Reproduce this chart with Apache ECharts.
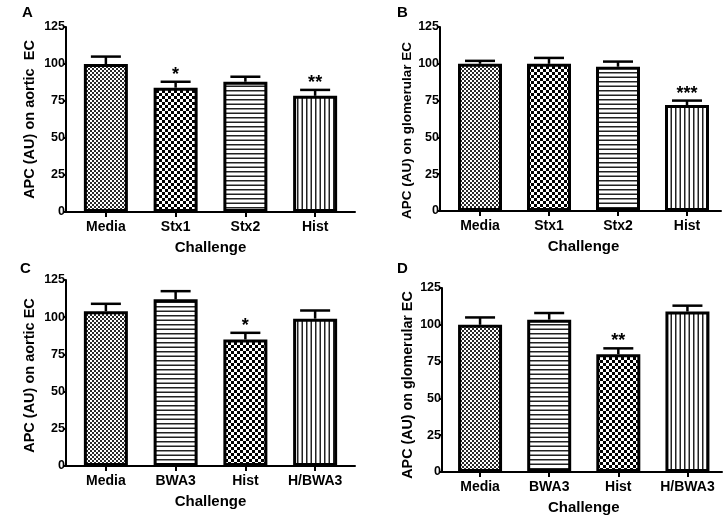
<!DOCTYPE html>
<html>
<head>
<meta charset="utf-8">
<script src="https://cdn.jsdelivr.net/npm/echarts@6/dist/echarts.min.js"></script>
<style>
html,body{margin:0;padding:0;background:#fff;}
#chart{width:726px;height:519px;}
</style>
</head>
<body>
<div id="chart"></div>
<script>
// ---- data ----
const catsAB = ['Media', 'Stx1', 'Stx2', 'Hist'];
const catsCD = ['Media', 'BWA3', 'Hist', 'H/BWA3'];

const meanA = [100, 84, 88, 78.5];
const errA  = [5, 4, 3.4, 4];
const sigA  = ['', '*', '', '**'];

const meanB = [100, 100, 98, 72];
const errB  = [2, 4, 3.5, 3];
const sigB  = ['', '', '', '***'];

const meanC = [104, 112, 85, 99];
const errC  = [5, 5.5, 4.5, 5.5];
const sigC  = ['', '', '*', ''];

const meanD = [100, 103.5, 80, 109];
const errD  = [5, 4.5, 4, 4];
const sigD  = ['', '', '**', ''];

const yMin = 0, yMax = 125, yStep = 25;
const panelLetters = ['A', 'B', 'C', 'D'];
const yNames = ['APC (AU) on aortic  EC', 'APC (AU) on glomerular EC', 'APC (AU) on aortic EC', 'APC (AU) on glomerular EC'];
const xName = 'Challenge';
const patternsAB = ['fine', 'checker', 'hlines', 'vlines'];
const patternsCD = ['fine', 'hlines', 'checker', 'vlines'];

// ---- styling / layout ----
const FONT = "'Liberation Sans', Arial, sans-serif";

function makePattern(kind) {
  const c = document.createElement('canvas');
  let ctx;
  if (kind === 'fine') {
    c.width = 4; c.height = 4; ctx = c.getContext('2d');
    ctx.fillStyle = '#fff'; ctx.fillRect(0, 0, 4, 4);
    ctx.fillStyle = '#2a2a2a';
    ctx.fillRect(0, 0, 2, 2); ctx.fillRect(2, 2, 2, 2);
  } else if (kind === 'checker') {
    c.width = 6; c.height = 6; ctx = c.getContext('2d');
    ctx.fillStyle = '#fff'; ctx.fillRect(0, 0, 6, 6);
    ctx.fillStyle = '#000';
    ctx.fillRect(0, 0, 3, 3); ctx.fillRect(3, 3, 3, 3);
  } else if (kind === 'hlines') {
    c.width = 4; c.height = 9; ctx = c.getContext('2d');
    ctx.fillStyle = '#fff'; ctx.fillRect(0, 0, 4, 9);
    ctx.fillStyle = '#222';
    ctx.fillRect(0, 0, 4, 1.5); ctx.fillRect(0, 4.5, 4, 1.5);
  } else {
    c.width = 9; c.height = 4; ctx = c.getContext('2d');
    ctx.fillStyle = '#fff'; ctx.fillRect(0, 0, 9, 4);
    ctx.fillStyle = '#222';
    ctx.fillRect(0, 0, 1.5, 4); ctx.fillRect(4.5, 0, 1.5, 4);
  }
  return { image: c, repeat: 'repeat' };
}

const panels = [
  { cats: catsAB, mean: meanA, err: errA, sig: sigA, pats: patternsAB,
    axis: { left: 66, top: 27, width: 289, height: 185 }, bars: { left: 71, width: 279 },
    nameGap: 28.5, nameShift: 0, nameSize: 14.5,
    letter: { left: 22, top: 5 } },
  { cats: catsAB, mean: meanB, err: errB, sig: sigB, pats: patternsAB,
    axis: { left: 440, top: 27, width: 281, height: 184 }, bars: { left: 445.5, width: 276 },
    nameGap: 25, nameShift: 23, nameSize: 13.5,
    letter: { left: 397, top: 5 } },
  { cats: catsCD, mean: meanC, err: errC, sig: sigC, pats: patternsCD,
    axis: { left: 66, top: 280, width: 289, height: 186 }, bars: { left: 71, width: 279 },
    nameGap: 28.5, nameShift: 5, nameSize: 14.5,
    letter: { left: 20, top: 261 } },
  { cats: catsCD, mean: meanD, err: errD, sig: sigD, pats: patternsCD,
    axis: { left: 442, top: 288, width: 280, height: 184 }, bars: { left: 445.5, width: 276.5 },
    nameGap: 27, nameShift: 10, nameSize: 14.3,
    letter: { left: 397, top: 261 } }
];

const grid = [], xAxis = [], yAxis = [], series = [], title = [];

panels.forEach((p, i) => {
  const gA = grid.length;
  grid.push({ left: p.axis.left, top: p.axis.top, width: p.axis.width, height: p.axis.height, containLabel: false });
  const gB = grid.length;
  grid.push({ left: p.bars.left, top: p.axis.top, width: p.bars.width, height: p.axis.height, containLabel: false });

  // helper axes: x line and the y axis with ticks, labels, name
  xAxis.push({ gridIndex: gA, type: 'value', min: 0, max: 1, show: true,
    axisLine: { show: true, lineStyle: { color: '#000', width: 2 } },
    axisTick: { show: false }, axisLabel: { show: false }, splitLine: { show: false } });
  yAxis.push({ gridIndex: gA, type: 'value', min: yMin, max: yMax, interval: yStep,
    name: yNames[i], nameLocation: 'middle', nameGap: p.nameGap,
    nameTextStyle: { fontFamily: FONT, fontWeight: 'bold', fontSize: p.nameSize, color: '#000', padding: [0, p.nameShift, 0, 0] },
    axisLine: { show: true, lineStyle: { color: '#000', width: 2 } },
    axisTick: { show: true, length: 3, lineStyle: { color: '#000', width: 2 } },
    axisLabel: { fontFamily: FONT, fontWeight: 'bold', fontSize: 12.5, color: '#000', margin: 1 },
    splitLine: { show: false } });

  // bar axes
  xAxis.push({ gridIndex: gB, type: 'category', data: p.cats,
    name: xName, nameLocation: 'middle', nameGap: 28,
    nameTextStyle: { fontFamily: FONT, fontWeight: 'bold', fontSize: 15, color: '#000' },
    axisLine: { show: false },
    axisTick: { show: true, alignWithLabel: true, length: 5, lineStyle: { color: '#000', width: 2 } },
    axisLabel: { fontFamily: FONT, fontWeight: 'bold', fontSize: 14, color: '#000', margin: 8, interval: 0, hideOverlap: false },
    splitLine: { show: false } });
  yAxis.push({ gridIndex: gB, type: 'value', min: yMin, max: yMax, interval: yStep, show: false });

  const xi = xAxis.length - 1, yi = yAxis.length - 1;

  series.push({
    type: 'bar', xAxisIndex: xi, yAxisIndex: yi, barWidth: 44, silent: true,
    data: p.mean.map((v, k) => ({ value: v, itemStyle: { color: makePattern(p.pats[k]), borderColor: '#000', borderWidth: 3 } })),
    z: 2
  });

  series.push({
    type: 'custom', xAxisIndex: xi, yAxisIndex: yi, silent: true, z: 3,
    data: p.mean.map((v, k) => [k, v, p.err[k]]),
    renderItem: (params, api) => {
      const k = api.value(0), m = api.value(1), e = api.value(2);
      const p0 = api.coord([k, m]);
      const p1 = api.coord([k, m + e]);
      const s = p.sig[params.dataIndex];
      const children = [
        { type: 'line', shape: { x1: p0[0], y1: p0[1], x2: p1[0], y2: p1[1] }, style: { stroke: '#000', lineWidth: 2.5 } },
        { type: 'line', shape: { x1: p1[0] - 15, y1: p1[1], x2: p1[0] + 15, y2: p1[1] }, style: { stroke: '#000', lineWidth: 2.5 } }
      ];
      if (s) {
        children.push({ type: 'text', x: p1[0], y: p1[1] + 2,
          style: { text: s, fontFamily: FONT, fontWeight: 'bold', fontSize: 18, fill: '#000', align: 'center', verticalAlign: 'bottom' } });
      }
      return { type: 'group', children };
    }
  });

  title.push({ text: panelLetters[i], left: p.letter.left, top: p.letter.top, padding: 0,
    textStyle: { fontFamily: FONT, fontWeight: 'bold', fontSize: 15, color: '#000' } });
});

const chart = echarts.init(document.getElementById('chart'), null, { renderer: 'canvas' });
chart.setOption({ animation: false, backgroundColor: '#fff', title, grid, xAxis, yAxis, series });
</script>
</body>
</html>
